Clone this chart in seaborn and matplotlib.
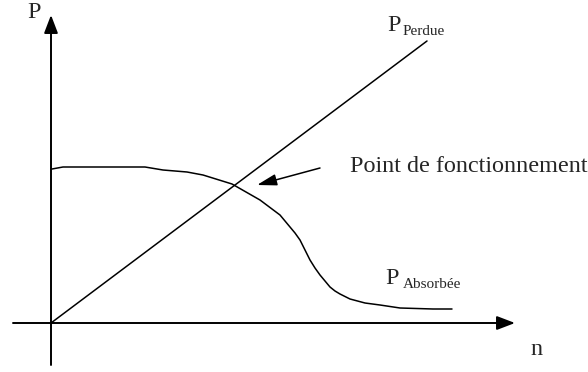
import matplotlib
matplotlib.use('Agg')
import matplotlib.pyplot as plt
import seaborn as sns
import pandas as pd

# P_Perdue: straight line from the origin
n_perdue = [0.0, 37.6]
p_perdue = [0.0, 28.2]

# P_Absorbee: flat, then drops after the operating point
n_absorbee = [0.1, 1.2, 9.4, 11.2, 13.6, 15.2, 18.1, 20.9, 22.9, 23.4,
              23.9, 24.4, 24.9, 25.4, 25.9, 26.4, 26.9, 27.4, 27.9, 28.4,
              28.9, 29.9, 31.4, 32.9, 34.9, 38.2, 40.1]
p_absorbee = [15.4, 15.6, 15.6, 15.3, 15.1, 14.8, 13.9, 12.3, 10.8, 10.2,
              9.6, 9.0, 8.3, 7.3, 6.3, 5.5, 4.8, 4.2, 3.6, 3.2,
              2.9, 2.4, 2.0, 1.8, 1.5, 1.4, 1.4]

# operating point arrow (tail -> tip)
arrow_tail = (26.9, 15.5)
arrow_tip = (20.6, 13.8)

sns.set_theme(style="white")
plt.rcParams['font.family'] = ['Liberation Serif', 'DejaVu Serif']

df_perdue = pd.DataFrame({'n': n_perdue, 'P': p_perdue})
df_abs = pd.DataFrame({'n': n_absorbee, 'P': p_absorbee})

fig = plt.figure(figsize=(5.88, 3.72), dpi=100)
ax = fig.add_axes([0, 0, 1, 1])
ax.set_xlim(-5.1, 53.7)
ax.set_ylim(-4.9, 32.3)
ax.axis('off')

sns.lineplot(data=df_perdue, x='n', y='P', color='black', lw=1.1,
             sort=False, estimator=None, ax=ax)
sns.lineplot(data=df_abs, x='n', y='P', color='black', lw=1.1,
             sort=False, estimator=None, ax=ax)

# axes with arrows
axis_style = dict(arrowstyle='-|>,head_length=1.1,head_width=0.42',
                  color='black', lw=1.4, mutation_scale=10,
                  shrinkA=0, shrinkB=0)
ax.annotate('', xy=(0, 30.8), xytext=(0, -4.2), arrowprops=axis_style)
ax.annotate('', xy=(46.4, 0), xytext=(-3.8, 0), arrowprops=axis_style)

ax.annotate('', xy=arrow_tip, xytext=arrow_tail,
            arrowprops=dict(arrowstyle='-|>,head_length=1.2,head_width=0.35',
                            color='black', lw=1.1, mutation_scale=10,
                            shrinkA=0, shrinkB=0))

big = 17.4
small = 11
ax.text(-2.4, 30.5, 'P', fontsize=big, ha='left', va='baseline')
ax.text(47.9, -3.2, 'n', fontsize=big, ha='left', va='baseline')
ax.text(33.6, 29.2, 'P', fontsize=big, ha='left', va='baseline')
ax.text(35.2, 28.8, 'Perdue', fontsize=small, ha='left', va='baseline')
ax.text(33.4, 3.9, 'P', fontsize=big, ha='left', va='baseline')
ax.text(35.2, 3.5, 'Absorbée', fontsize=small, ha='left', va='baseline')
ax.text(29.9, 15.1, 'Point de fonctionnement', fontsize=big,
        ha='left', va='baseline')

plt.savefig('out.png', dpi=100, facecolor='white')
plt.close()
